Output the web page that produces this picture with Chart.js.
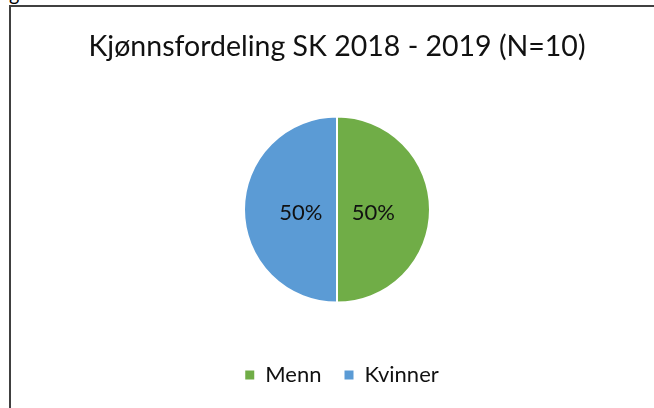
<!DOCTYPE html>
<html>
<head>
<meta charset="utf-8">
<script src="https://cdn.jsdelivr.net/npm/chart.js@4"></script>
<style>
  html, body { margin: 0; padding: 0; background: #fff; }
  #wrap { position: relative; width: 654px; height: 408px; overflow: hidden; }
  #frame { position: absolute; left: 9px; top: 5px; width: 700px; height: 500px;
           border-left: 2px solid #404040; border-top: 2px solid #404040; }
  #prev { position: absolute; left: 9px; top: -17px; font-family: Lato, sans-serif; font-size: 20px; color: #000; line-height: 20px; }
  canvas { position: absolute; left: 0; top: 0; }
</style>
</head>
<body>
<div id="wrap">
  <div id="prev">g</div>
  <div id="frame"></div>
  <canvas id="c" width="654" height="408"></canvas>
</div>
<script>
const titleText = 'Kjønnsfordeling SK 2018 - 2019 (N=10)';
const categories = ['Menn', 'Kvinner'];
const values = [50, 50];
const colors = ['#70AD47', '#5B9BD5'];

const pctLabels = {
  id: 'pctLabels',
  afterLayout(chart) {
    if (chart.legend) { chart.legend.left += 10; }
  },
  afterDatasetsDraw(chart) {
    const ctx = chart.ctx;
    const meta = chart.getDatasetMeta(0);
    const data = chart.data.datasets[0].data;
    const total = data.reduce((a, b) => a + b, 0);
    ctx.save();
    ctx.font = '22px Lato';
    ctx.fillStyle = '#111';
    ctx.textAlign = 'center';
    ctx.textBaseline = 'middle';
    meta.data.forEach((arc, i) => {
      const p = arc.getProps(['x', 'y', 'startAngle', 'endAngle', 'outerRadius'], true);
      const mid = (p.startAngle + p.endAngle) / 2;
      const r = p.outerRadius * 0.39;
      const label = Math.round(data[i] / total * 100) + '%';
      ctx.fillText(label, p.x + Math.cos(mid) * r, p.y + Math.sin(mid) * r + 3);
    });
    ctx.restore();
  }
};

new Chart(document.getElementById('c'), {
  type: 'pie',
  data: {
    labels: categories,
    datasets: [{
      data: values,
      backgroundColor: colors,
      borderColor: '#ffffff',
      borderWidth: 2,
      radius: 93
    }]
  },
  options: {
    responsive: false,
    animation: false,
    layout: { padding: { left: 20, right: 0, top: 0, bottom: 12 } },
    plugins: {
      tooltip: { enabled: false },
      title: {
        display: true,
        text: titleText,
        color: '#111',
        font: { family: 'Lato', size: 28.5, weight: 'normal' },
        padding: { top: 30, bottom: 14 }
      },
      legend: {
        position: 'bottom',
        labels: {
          color: '#111',
          font: { family: 'Lato', size: 22 },
          boxWidth: 9,
          boxHeight: 9,
          padding: 23,
          generateLabels(chart) {
            const items = Chart.overrides.pie.plugins.legend.labels.generateLabels(chart);
            items.forEach(it => { it.lineWidth = 0; it.strokeStyle = 'rgba(0,0,0,0)'; });
            return items;
          }
        }
      }
    }
  },
  plugins: [pctLabels]
});
</script>
</body>
</html>
